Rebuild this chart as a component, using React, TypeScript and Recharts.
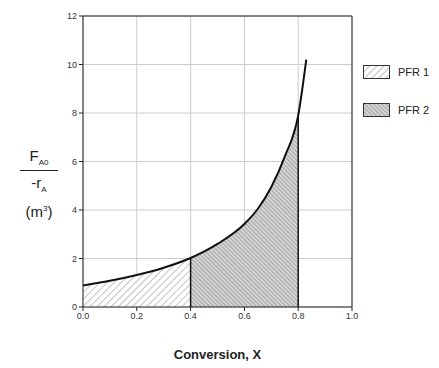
import React from 'react';
import {
  ComposedChart, Area, Line, XAxis, YAxis, CartesianGrid, ReferenceLine
} from 'recharts';

// values (Levenspiel plot, FA0/-rA vs X)
const conversion = [0, 0.1, 0.2, 0.3, 0.4, 0.5, 0.6, 0.65, 0.7, 0.75, 0.8, 0.83];
const fa0OverRa = [0.89, 1.08, 1.32, 1.62, 2.02, 2.6, 3.42, 4.05, 4.95, 6.2, 7.9, 10.2];
const xTicks = [0, 0.2, 0.4, 0.6, 0.8, 1.0];
const yTicks = [0, 2, 4, 6, 8, 10, 12];
const pfr1Range = [0, 0.4];
const pfr2Range = [0.4, 0.8];

const rows = conversion.map((x, i) => ({
  x,
  y: fa0OverRa[i],
  pfr1: x >= pfr1Range[0] && x <= pfr1Range[1] ? fa0OverRa[i] : null,
  pfr2: x >= pfr2Range[0] && x <= pfr2Range[1] ? fa0OverRa[i] : null,
}));

const yAt = (x: number) => fa0OverRa[conversion.indexOf(x)];

const font = 'Arial, "Liberation Sans", sans-serif';

function Patterns() {
  return (
    <defs>
      <pattern id="hatch1" width="5" height="5" patternUnits="userSpaceOnUse" patternTransform="rotate(45)">
        <rect width="5" height="5" fill="#fff" />
        <line x1="0" y1="0" x2="0" y2="5" stroke="#888" strokeWidth="1" />
      </pattern>
      <pattern id="hatch2" width="3" height="3" patternUnits="userSpaceOnUse" patternTransform="rotate(-45)">
        <rect width="3" height="3" fill="#d4d4d4" />
        <line x1="0" y1="0" x2="0" y2="3" stroke="#777" strokeWidth="1" />
      </pattern>
    </defs>
  );
}

function Swatch({ id }: { id: string }) {
  return (
    <svg width={27} height={14} style={{ display: 'block' }}>
      <Patterns />
      <rect x={0.5} y={0.5} width={26} height={13} fill={`url(#${id})`} stroke="#333" />
    </svg>
  );
}

export default function App() {
  return (
    <div style={{ position: 'absolute', left: 0, top: 0, width: 439, height: 368, background: '#fff', fontFamily: font }}>
      <ComposedChart width={439} height={368} data={rows} margin={{ top: 16, right: 87, bottom: 41, left: 63 }}>
        <Patterns />
        <CartesianGrid stroke="#ccc" horizontalValues={yTicks} verticalValues={xTicks} />
        <XAxis
          dataKey="x" type="number" domain={[0, 1]} ticks={xTicks}
          tickFormatter={(v: number) => v.toFixed(1)}
          stroke="#222" tickSize={4} height={20}
          tick={{ fontSize: 9, fill: '#333', fontFamily: font }}
        />
        <YAxis
          type="number" domain={[0, 12]} ticks={yTicks} width={20}
          stroke="#222" tickSize={4}
          tick={{ fontSize: 9, fill: '#333', fontFamily: font }}
        />
        <ReferenceLine y={12} stroke="#222" />
        <ReferenceLine x={1} stroke="#222" />
        <Area dataKey="pfr1" type="monotone" fill="url(#hatch1)" fillOpacity={1} stroke="none" isAnimationActive={false} />
        <Area dataKey="pfr2" type="monotone" fill="url(#hatch2)" fillOpacity={1} stroke="none" isAnimationActive={false} />
        <ReferenceLine segment={[{ x: 0.4, y: 0 }, { x: 0.4, y: yAt(0.4) }]} stroke="#111" strokeWidth={1.5} />
        <ReferenceLine segment={[{ x: 0.8, y: 0 }, { x: 0.8, y: yAt(0.8) }]} stroke="#111" strokeWidth={1.5} />
        <Line dataKey="y" type="monotone" stroke="#111" strokeWidth={2} dot={false} isAnimationActive={false} />
      </ComposedChart>

      <div style={{ position: 'absolute', left: 363, top: 65, display: 'flex', alignItems: 'center', gap: 8, fontSize: 11, color: '#222' }}>
        <Swatch id="hatch1" /><span>PFR 1</span>
      </div>
      <div style={{ position: 'absolute', left: 363, top: 103, display: 'flex', alignItems: 'center', gap: 8, fontSize: 11, color: '#222' }}>
        <Swatch id="hatch2" /><span>PFR 2</span>
      </div>

      <div style={{ position: 'absolute', left: 18, top: 148, width: 42, textAlign: 'center', color: '#222', fontSize: 15, lineHeight: 1 }}>
        <div style={{ borderBottom: '1.5px solid #222', paddingBottom: 3, margin: '0 2px' }}>
          F<sub style={{ fontSize: 8 }}>A0</sub>
        </div>
        <div style={{ marginTop: 4 }}>-r<sub style={{ fontSize: 8 }}>A</sub></div>
        <div style={{ marginTop: 10 }}>(m<sup style={{ fontSize: 8 }}>3</sup>)</div>
      </div>

      <div style={{ position: 'absolute', left: 83, width: 269, top: 347, textAlign: 'center', fontWeight: 'bold', fontSize: 13, color: '#222' }}>
        Conversion, X
      </div>
    </div>
  );
}
